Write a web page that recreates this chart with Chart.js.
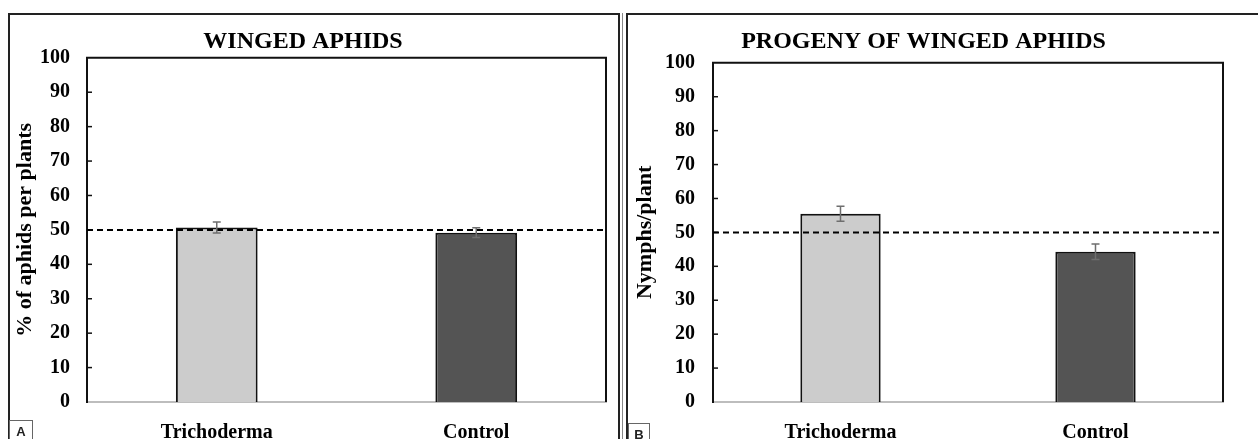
<!DOCTYPE html>
<html>
<head>
<meta charset="utf-8">
<script src="https://cdn.jsdelivr.net/npm/chart.js@4.4.0/dist/chart.umd.min.js"></script>
<style>
  body { margin: 0; background: #fff; width: 1258px; height: 439px; overflow: hidden; position: relative; }
  .panel { position: absolute; top: 13px; height: 440px; border: 2px solid #222; border-bottom: none; box-sizing: border-box; }
  #panelA { left: 8px; width: 612px; }
  #panelB { left: 626px; width: 640px; }
  #sep { position: absolute; left: 622px; top: 13px; width: 1px; height: 430px; background: #888; }
  .wrap { position: absolute; top: 0; height: 439px; }
  #wrapA { left: 0; width: 621px; }
  #wrapB { left: 624px; width: 634px; }
  .tag { position: absolute; border: 1px solid #666; box-sizing: border-box; height: 22px;
         font: bold 13px "Liberation Sans", Arial, sans-serif; color: #222; text-align: center; line-height: 22px; }
  #tagA { left: 9px; top: 420px; width: 24px; }
  #tagB { left: 628px; top: 423px; width: 22px; }
</style>
</head>
<body>
<div class="panel" id="panelA"></div>
<div id="sep"></div>
<div class="panel" id="panelB"></div>
<div class="wrap" id="wrapA"><canvas id="chartA"></canvas></div>
<div class="wrap" id="wrapB"><canvas id="chartB"></canvas></div>
<div class="tag" id="tagA">A</div>
<div class="tag" id="tagB">B</div>
<script>
const CATEGORIES = ['Trichoderma', 'Control'];
const BAR_COLORS = ['#cccccc', '#545454'];
const REFERENCE_LINE = 50;

// Panel A - winged aphids (% per plant)
const winged = [50.7, 49.2];
const wingedErr = [1.6, 1.4];

// Panel B - progeny of winged aphids (nymphs/plant)
const progeny = [55.5, 44.3];
const progenyErr = [2.2, 2.3];

const SERIF = '"Liberation Serif", "Times New Roman", serif';

const overlayPlugin = {
  id: 'overlay',
  afterDatasetsDraw(chart) {
    const { ctx, chartArea: a, scales: { x, y } } = chart;
    ctx.save();
    // frame (top, left, right)
    ctx.strokeStyle = '#111';
    ctx.lineWidth = 2;
    ctx.beginPath();
    ctx.moveTo(a.left, a.bottom);
    ctx.lineTo(a.left, a.top);
    ctx.lineTo(a.right, a.top);
    ctx.lineTo(a.right, a.bottom);
    ctx.stroke();
    // inner ticks
    ctx.lineWidth = 1.5;
    y.ticks.forEach(t => {
      if (t.value <= 0 || t.value >= 100) return;
      const py = y.getPixelForValue(t.value);
      ctx.beginPath();
      ctx.moveTo(a.left, py);
      ctx.lineTo(a.left + 5, py);
      ctx.stroke();
    });
    // dashed reference line
    const ry = y.getPixelForValue(REFERENCE_LINE);
    ctx.setLineDash([6, 4]);
    ctx.lineWidth = 2;
    ctx.strokeStyle = '#000';
    ctx.beginPath();
    ctx.moveTo(a.left, ry);
    ctx.lineTo(a.right, ry);
    ctx.stroke();
    ctx.setLineDash([]);
    // error bars
    const ds = chart.data.datasets[0];
    ctx.strokeStyle = '#6e6e6e';
    ctx.lineWidth = 1.5;
    ds.data.forEach((v, i) => {
      const e = ds.errors[i];
      const px = x.getPixelForValue(i);
      const top = y.getPixelForValue(v + e);
      const bot = y.getPixelForValue(v - e);
      ctx.beginPath();
      ctx.moveTo(px, top); ctx.lineTo(px, bot);
      ctx.moveTo(px - 4, top); ctx.lineTo(px + 4, top);
      ctx.moveTo(px - 4, bot); ctx.lineTo(px + 4, bot);
      ctx.stroke();
    });
    ctx.restore();
  }
};

function makeChart(id, values, errors, title, yTitle, geo) {
  return new Chart(document.getElementById(id), {
    type: 'bar',
    data: {
      labels: CATEGORIES,
      datasets: [{
        data: values,
        errors: errors,
        backgroundColor: BAR_COLORS,
        borderColor: '#111',
        borderWidth: 2,
        barPercentage: 0.315,
        categoryPercentage: 1
      }]
    },
    options: {
      responsive: true,
      maintainAspectRatio: false,
      animation: false,
      layout: { padding: { left: 0, right: geo.right, top: 0, bottom: 0 } },
      plugins: {
        legend: { display: false },
        tooltip: { enabled: false },
        title: {
          display: true,
          text: title,
          color: '#000',
          font: { family: SERIF, size: 24, weight: 'bold', lineHeight: 1.2 },
          padding: { top: 27, bottom: geo.titleBottom }
        }
      },
      scales: {
        x: {
          grid: { display: false },
          border: { color: '#bdbdbd', width: 2 },
          ticks: { color: '#000', padding: 11, font: { family: SERIF, size: 20, weight: 'bold' } },
          afterFit: s => { s.height = 37; }
        },
        y: {
          min: 0, max: 100,
          grid: { display: false, drawTicks: false },
          border: { color: '#111', width: 2 },
          ticks: { stepSize: 10, color: '#000', padding: geo.tickPad, font: { family: SERIF, size: 20, weight: 'bold' } },
          title: {
            display: true,
            text: yTitle,
            color: '#000',
            font: { family: SERIF, size: 22, weight: 'bold', lineHeight: 1.2 },
            padding: { top: geo.yTitlePad, bottom: 0 }
          },
          afterFit: s => { s.width = geo.left; }
        }
      }
    },
    plugins: [overlayPlugin]
  });
}

makeChart('chartA', winged, wingedErr, 'WINGED APHIDS', '% of aphids per plants',
  { left: 87, right: 15, titleBottom: 2, tickPad: 17, yTitlePad: 12 });
makeChart('chartB', progeny, progenyErr, 'PROGENY OF WINGED APHIDS', 'Nymphs/plant',
  { left: 89, right: 35, titleBottom: 7, tickPad: 18, yTitlePad: 8 });
</script>
</body>
</html>
